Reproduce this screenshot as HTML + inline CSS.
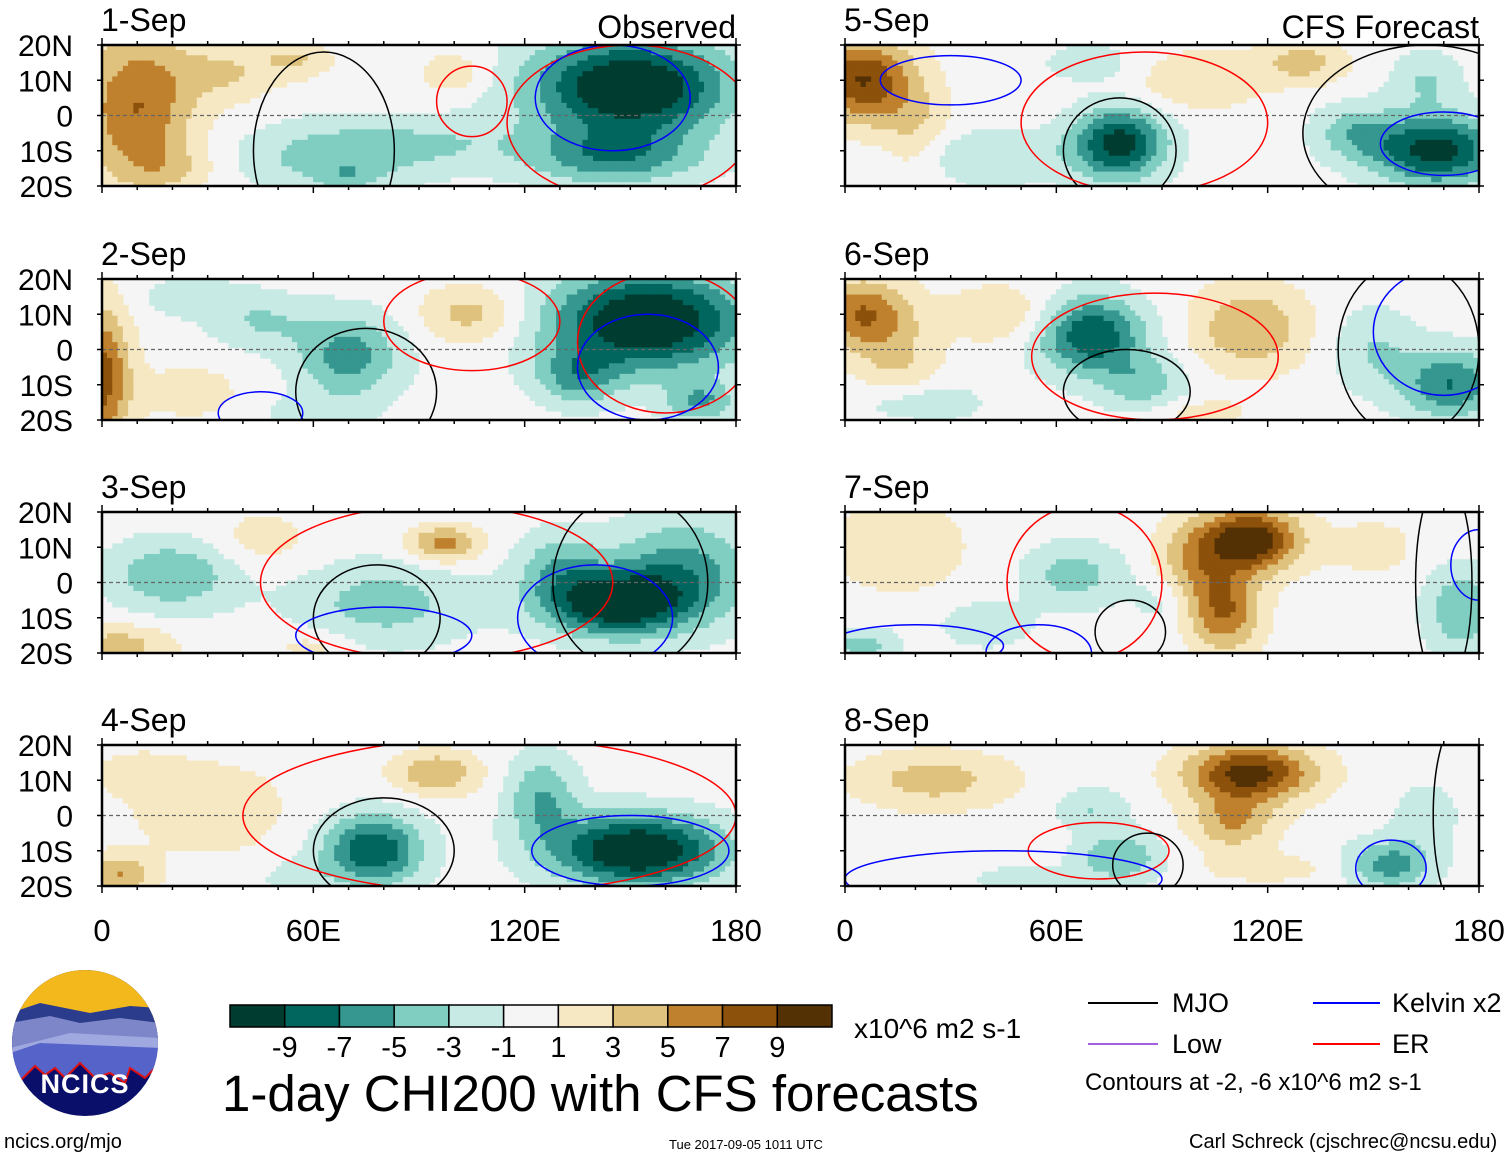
<!DOCTYPE html>
<html><head><meta charset="utf-8">
<style>
body{margin:0;background:#fff;width:1510px;height:1159px;overflow:hidden;position:relative;font-family:"Liberation Sans",Arial,sans-serif;}
.t{position:absolute;white-space:nowrap;color:#000;}
</style></head>
<body>
<svg id="main" width="1510" height="1159" style="position:absolute;left:0;top:0"></svg>
<script>
// colour levels (BrBG reversed)
const levelColors=["#003c30","#01665e","#35978f","#80cdc1","#c7eae5","#f5f5f5","#f6e8c3","#dfc27d","#bf812d","#8c510a","#543005"];
const levelLabels=["-9","-7","-5","-3","-1","1","3","5","7","9"];
const panelTitles=["1-Sep","2-Sep","3-Sep","4-Sep","5-Sep","6-Sep","7-Sep","8-Sep"];
const latTicks=["20N","10N","0","10S","20S"];
const lonTickLabels=["0","60E","120E","180"];
// anomaly blobs per panel: [lon, lat, sigmaLon, sigmaLat, amplitude]
const blobs1=[[10,2,16,22,7],[35,12,15,8,3],[55,16,10,5,3],[150,8,28,14,-12],[145,-12,25,8,-6],[65,-12,25,10,-4],[95,-8,25,8,-2.5],[100,12,10,6,2.5],[70,-18,8,4,-2],[20,-15,12,6,2]];
const blobs2=[[0,-8,8,20,8],[25,15,15,6,-2],[45,8,15,8,-3],[70,-2,15,12,-6],[105,10,14,8,4],[155,8,28,14,-12],[135,-8,12,8,-5],[170,-15,10,6,-5],[25,-12,15,8,2],[60,-18,15,5,-2]];
const blobs3=[[145,-6,20,9,-11],[165,3,20,15,-6],[130,5,12,10,-4],[20,2,18,10,-5],[80,-6,25,12,-4],[97,11,10,5,6],[5,-18,15,6,4],[45,12,15,8,2],[60,-18,12,5,2]];
const blobs4=[[77,-10,14,10,-9],[152,-10,24,10,-12],[125,5,10,12,-5],[95,12,12,6,5],[30,2,20,12,3],[5,-17,10,6,5],[55,-18,10,5,-2],[10,12,12,6,2]];
const blobs5=[[5,10,14,12,9],[20,-5,10,15,3],[78,-8,13,10,-10],[168,-10,18,10,-10],[145,-5,12,8,-4],[100,10,18,8,3],[130,15,12,6,4],[40,-12,25,8,-3],[70,15,15,6,-2],[165,10,10,8,-3]];
const blobs6=[[5,10,14,10,7],[15,-5,12,12,3],[70,4,15,11,-9],[85,-10,12,8,-4],[115,6,16,12,5],[172,-10,14,10,-7],[150,0,12,12,-3],[20,-15,18,6,-3],[45,10,15,8,3],[100,-18,15,4,2]];
const blobs7=[[115,12,14,9,11],[108,-8,10,12,7],[98,5,10,12,4],[65,2,14,9,-4],[175,-8,10,12,-5],[5,-18,10,5,-4],[15,10,18,12,3],[40,-12,12,6,-3],[150,10,12,8,2],[90,-5,8,8,-2]];
const blobs8=[[115,12,18,8,10],[110,-2,12,8,5],[25,10,22,8,4],[78,-12,12,7,-5],[155,-14,12,7,-6],[70,2,10,6,-3],[120,-15,18,4,2],[165,0,10,10,-2],[50,-18,15,4,-2]];
const allBlobs=[blobs1,blobs2,blobs3,blobs4,blobs5,blobs6,blobs7,blobs8];
// contours per panel: [lon, lat, radiusLon, radiusLat, type]  type: m=MJO k=Kelvin e=ER
const cont1=[[63,-10,20,28,"m"],[150,-2,35,22,"e"],[145,5,22,15,"k"],[105,4,10,10,"e"]];
const cont2=[[75,-12,20,18,"m"],[160,2,25,20,"e"],[155,-5,20,15,"k"],[105,8,25,14,"e"],[45,-18,12,6,"k"]];
const cont3=[[78,-10,18,15,"m"],[95,0,50,22,"e"],[140,-10,22,15,"k"],[150,0,22,25,"m"],[80,-15,25,8,"k"]];
const cont4=[[80,-10,20,15,"m"],[110,0,70,22,"e"],[150,-10,28,10,"k"]];
const cont5=[[78,-10,16,15,"m"],[85,-2,35,20,"e"],[165,-5,35,25,"m"],[170,-8,18,9,"k"],[30,10,20,7,"k"]];
const cont6=[[80,-12,18,12,"m"],[88,-2,35,18,"e"],[160,0,20,25,"m"],[170,5,20,18,"k"]];
const cont7=[[81,-14,10,9,"m"],[68,0,22,22,"e"],[20,-18,25,6,"k"],[55,-20,15,8,"k"],[180,5,8,10,"k"],[170,0,8,30,"m"]];
const cont8=[[72,-10,20,8,"e"],[45,-18,45,8,"k"],[86,-14,10,9,"m"],[155,-15,10,8,"k"],[175,0,8,28,"m"]];
const allCont=[cont1,cont2,cont3,cont4,cont5,cont6,cont7,cont8];

const NS="http://www.w3.org/2000/svg";
const svg=document.getElementById('main');
function mk(tag,attrs,parent){const e=document.createElementNS(NS,tag);for(const k in attrs)e.setAttribute(k,attrs[k]);(parent||svg).appendChild(e);return e;}
const panelX=[102,102,102,102,845,845,845,845];
const panelY=[45,279,512,745,45,279,512,745];
const PW=634,PH=141;
const typeColor={m:"#000",k:"#0000ff",e:"#ff0000"};
function levelIndex(v){return Math.max(0,Math.min(10,Math.floor((v+11)/2)));}

for(let p=0;p<8;p++){
  const x0=panelX[p],y0=panelY[p];
  const xs=lon=>x0+lon/180*PW, ys=lat=>y0+(20-lat)/40*PH;
  const g=mk('g',{});
  
  
  const cp=mk('clipPath',{id:'cp'+p},g);mk('rect',{x:x0,y:y0,width:PW,height:PH},cp);
  const field=mk('g',{'clip-path':'url(#cp'+p+')'},g);
  
  
  const step=1.5;
  for(let lat=20;lat>-20;lat-=step){
    for(let lon=0;lon<180;lon+=step){
      const cl=lon+step/2, ct=lat-step/2;
      let v=0;
      for(const b of allBlobs[p]){const dx=(cl-b[0])/b[2],dy=(ct-b[1])/b[3];v+=b[4]*Math.exp(-(dx*dx+dy*dy));}
      const idx=levelIndex(v);
      if(idx===5)continue;
      const r=mk('rect',{x:xs(lon)-0.3,y:ys(lat)-0.3,width:xs(lon+step)-xs(lon)+0.6,height:ys(lat-step)-ys(lat)+0.6,fill:levelColors[idx]},field);
      
      
    }
  }
  field.insertBefore(mk('rect',{x:x0,y:y0,width:PW,height:PH,fill:levelColors[5]}),field.firstChild);
  mk('line',{x1:x0,x2:x0+PW,y1:ys(0),y2:ys(0),stroke:'#666','stroke-width':1.2,'stroke-dasharray':'4,3'},field);
  for(const c of allCont[p]){
    const e=mk('ellipse',{cx:xs(c[0]),cy:ys(c[1]),rx:c[2]/180*PW,ry:c[3]/40*PH,fill:'none',stroke:typeColor[c[4]],'stroke-width':1.5},field);
    
    
  }
  mk('rect',{x:x0,y:y0,width:PW,height:PH,fill:'none',stroke:'#000','stroke-width':2.5},g);
  for(let lon=0;lon<=180;lon+=10){
    const len=lon%60===0?7:4;
    mk('line',{x1:xs(lon),x2:xs(lon),y1:y0,y2:y0-len,stroke:'#000','stroke-width':1.5},g);
    mk('line',{x1:xs(lon),x2:xs(lon),y1:y0+PH,y2:y0+PH+len,stroke:'#000','stroke-width':1.5},g);
  }
  for(let lat=-20;lat<=20;lat+=10){
    mk('line',{x1:x0,x2:x0-5,y1:ys(lat),y2:ys(lat),stroke:'#000','stroke-width':1.5},g);
    mk('line',{x1:x0+PW,x2:x0+PW+5,y1:ys(lat),y2:ys(lat),stroke:'#000','stroke-width':1.5},g);
  }
  const tt=mk('text',{x:x0-1,y:y0-14,'font-size':32,'font-family':'Liberation Sans, sans-serif'},g);
  tt.textContent=panelTitles[p];
  
  
  if(p<4){
    latTicks.forEach((l,i)=>{
      const t=mk('text',{x:73,y:y0+i*PH/4+11,'font-size':30,'text-anchor':'end','font-family':'Liberation Sans, sans-serif'},g);
      t.textContent=l;
      
      
    });
  }
}
[102,845].forEach(x0=>{
  lonTickLabels.forEach((l,i)=>{
    const t=mk('text',{x:x0+i*PW/3,y:941,'font-size':31,'text-anchor':'middle','font-family':'Liberation Sans, sans-serif'});
    t.textContent=l;
    
    
  });
});
[[736,"Observed","observed-label"],[1479,"CFS Forecast","forecast-label"]].forEach(h=>{
  const t=mk('text',{x:h[0],y:38,'font-size':32,'text-anchor':'end','font-family':'Liberation Sans, sans-serif'});
  t.textContent=h[1];
  
  
});
const cb=mk('g',{});


const cbX=230,cbW=602/11;
levelColors.forEach((c,i)=>{mk('rect',{x:cbX+i*cbW,y:1005,width:cbW,height:22,fill:c,stroke:'#000','stroke-width':1.5},cb);});
levelLabels.forEach((l,i)=>{
  const t=mk('text',{x:cbX+(i+1)*cbW,y:1057,'font-size':29,'text-anchor':'middle','font-family':'Liberation Sans, sans-serif'},cb);
  t.textContent=l;
});
</script>
<svg width="150" height="150" style="position:absolute;left:10px;top:968px">
<defs><clipPath id="lc"><circle cx="75" cy="75" r="73"/></clipPath></defs>
<g clip-path="url(#lc)">
<rect width="150" height="150" fill="#0a0f6a"/>
<rect width="150" height="60" fill="#f2b81c"/>
<polygon points="0,45 30,35 80,45 120,38 150,40 150,70 0,80" fill="#2c3c8c"/>
<polygon points="0,55 40,48 70,55 110,50 150,55 150,80 0,95" fill="#7d86c8"/>
<polygon points="0,80 60,65 150,70 150,85 0,100" fill="#a0a8e0"/>
<polygon points="0,85 30,75 150,80 150,95 135,110 120,100 115,115 100,105 85,110 70,95 55,110 45,100 35,107 25,98 10,113 0,115" fill="#5663c8"/>
<polyline points="0,115 10,113 25,98 35,107 45,100 55,110 70,95 85,110 100,105 115,115 120,100 135,110 150,95" fill="none" stroke="#e01010" stroke-width="2"/>
</g>
<text x="75" y="125" font-size="27" font-weight="bold" fill="#fff" text-anchor="middle" font-family="Liberation Sans, sans-serif" letter-spacing="1">NCICS</text>
</svg>
<div class="t" style="left:854px;top:1013px;font-size:28px">x10^6 m2 s-1</div>
<div class="t" style="left:222px;top:1064px;font-size:51px">1-day CHI200 with CFS forecasts</div>
<svg width="430" height="70" style="position:absolute;left:1080px;top:990px">
<line x1="8" y1="13" x2="78" y2="13" stroke="#000" stroke-width="2"/>
<line x1="233" y1="13" x2="300" y2="13" stroke="#0000ff" stroke-width="2"/>
<line x1="8" y1="54" x2="78" y2="54" stroke="#a060e0" stroke-width="2"/>
<line x1="233" y1="54" x2="300" y2="54" stroke="#ff0000" stroke-width="2"/>
</svg>
<div class="t" style="left:1172px;top:988px;font-size:27px">MJO</div>
<div class="t" style="left:1392px;top:988px;font-size:27px">Kelvin x2</div>
<div class="t" style="left:1172px;top:1029px;font-size:27px">Low</div>
<div class="t" style="left:1392px;top:1029px;font-size:27px">ER</div>
<div class="t" style="left:1085px;top:1069px;font-size:24px">Contours at -2, -6 x10^6 m2 s-1</div>
<div class="t" style="left:4px;top:1131px;font-size:20px">ncics.org/mjo</div>
<div class="t" style="left:669px;top:1137px;font-size:13px">Tue 2017-09-05 1011 UTC</div>
<div class="t" style="left:1189px;top:1131px;font-size:20px">Carl Schreck (cjschrec@ncsu.edu)</div>
</body></html>
